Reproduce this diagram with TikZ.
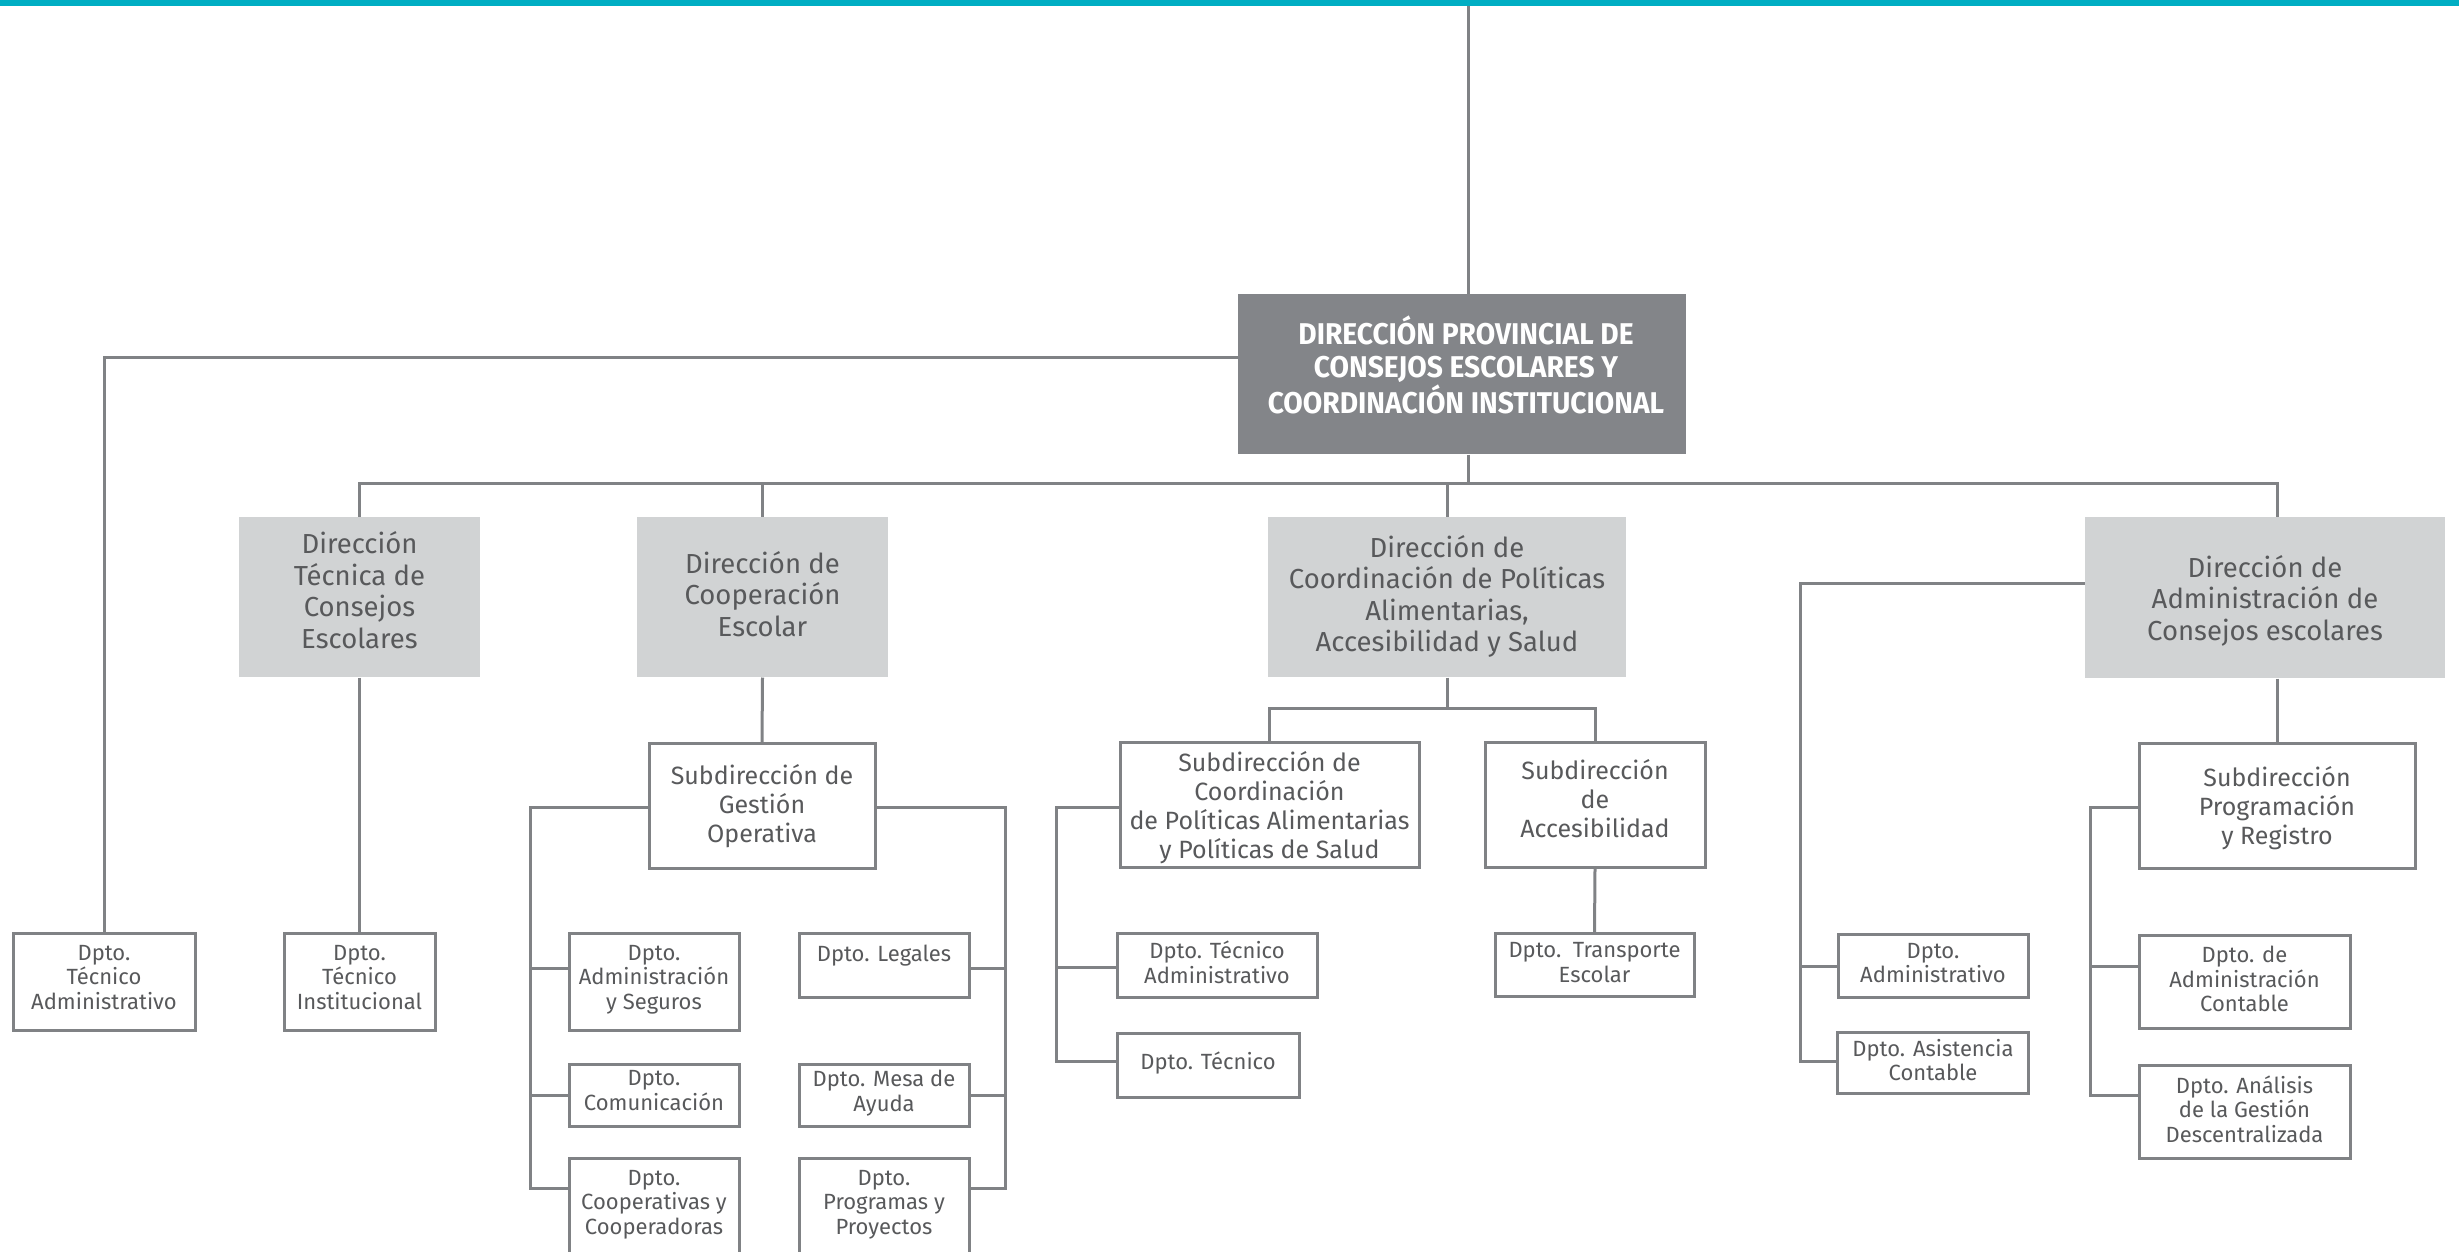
\documentclass[tikz,border=0pt]{standalone}
\usepackage{fontspec}
\setmainfont{Fira Sans}
\newfontfamily\titlefont[FakeStretch=0.94]{Fira Sans}
\definecolor{tealbar}{HTML}{00AEC3}
\definecolor{mainfill}{HTML}{838589}
\definecolor{dirfill}{HTML}{D1D3D4}
\definecolor{linec}{HTML}{808285}
\definecolor{txt}{HTML}{58595B}
\begin{document}
\begin{tikzpicture}[x=0.4pt,y=-0.4pt,
  conn/.style={draw=linec, line width=1.2pt},
  dimbox/.style 2 args={minimum width=#1*0.4pt, minimum height=#2*0.4pt, inner sep=0pt, align=center, text=txt},
  mainbox/.style 2 args={dimbox={#1}{#2}, fill=mainfill},
  titletxt/.style={text=white, align=center, inner sep=0pt, font=\titlefont\bfseries\fontsize{12pt}{13.2pt}\selectfont},
  dirbox/.style 2 args={dimbox={#1}{#2}, fill=dirfill, text depth=2.8pt, font=\fontsize{11pt}{12.6pt}\selectfont},
  subbox/.style 2 args={dimbox={#1}{#2}, draw=linec, line width=1.2pt, fill=white, font=\fontsize{10pt}{11.6pt}\selectfont},
  dptobox/.style 2 args={dimbox={#1}{#2}, draw=linec, line width=1.2pt, fill=white, text depth=2.2pt, font=\fontsize{8.8pt}{9.8pt}\selectfont},
  dptoL/.style 2 args={dptobox={#1}{#2}, text depth=3.6pt}
]
\useasboundingbox (0,0) rectangle (2459,1252);
\clip (0,0) rectangle (2459,1252);
\fill[tealbar] (0,0) rectangle (2459,6);

% top level
\node[mainbox={448}{160}] (main) at (1462,374) {};
\node[titletxt] (maintxt) at (1466,365) {DIRECCIÓN PROVINCIAL DE\\CONSEJOS ESCOLARES Y\\COORDINACIÓN INSTITUCIONAL};

% direcciones
\node[dirbox={241}{160}, text depth=5.6pt] (tecnica) at (359.5,597) {Dirección\\Técnica de\\Consejos\\Escolares};
\node[dirbox={251}{160}] (coop) at (762.5,597) {Dirección de\\Cooperación\\Escolar};
\node[dirbox={358}{160}] (coord) at (1447,597) {Dirección de\\Coordinación de Políticas\\Alimentarias,\\Accesibilidad y Salud};
\node[dirbox={360}{161}, text depth=0pt] (admin) at (2265,597.5) {Dirección de\\Administración de\\Consejos escolares};

% left departments
\node[dptoL={182}{97}] (dta) at (104,981.5) {Dpto.\\Técnico\\Administrativo};
\node[dptoL={151}{97}] (dti) at (359.5,981.5) {Dpto.\\Técnico\\Institucional};

% cooperacion
\node[subbox={226}{125}] (sgo) at (762,806) {Subdirección de\\Gestión\\Operativa};
\node[dptoL={170}{97}] (das) at (654,981.5) {Dpto.\\Administración\\y Seguros};
\node[dptoL={170}{62}] (dcom) at (654,1095) {Dpto.\\Comunicación};
\node[dptoL={170}{97}] (dcoop) at (654,1206.5) {Dpto.\\Cooperativas y\\Cooperadoras};
\node[dptobox={170}{64}, text depth=0pt] (dleg) at (884,965) {Dpto. Legales\\\mbox{}};
\node[dptoL={170}{62}] (dmesa) at (884,1095) {Dpto. Mesa de\\Ayuda};
\node[dptoL={170}{97}] (dprog) at (884,1206.5) {Dpto.\\Programas y\\Proyectos};

% coordinacion
\node[subbox={299}{125}, text depth=0pt] (sca) at (1269.5,805) {Subdirección de\\Coordinación\\de Políticas Alimentarias\\y Políticas de Salud};
\node[subbox={220}{125}, text depth=5pt] (sac) at (1595,805) {Subdirección\\de\\Accesibilidad};
\node[dptobox={200}{64}] (dtadm) at (1217,965) {Dpto. Técnico\\Administrativo};
\node[dptoL={182}{64}] (dtec) at (1208,1065) {Dpto. Técnico};
\node[dptobox={199}{63}] (dtrans) at (1594.5,965) {Dpto.\ \ Transporte\\Escolar};

% administracion
\node[subbox={276}{125}, text depth=0pt] (spr) at (2277,805.5) {Subdirección\\Programación\\y Registro};
\node[dptobox={190}{63}] (dadm) at (1933,965.5) {Dpto.\\Administrativo};
\node[dptobox={191}{61}] (dasis) at (1933,1062.5) {Dpto. Asistencia\\Contable};
\node[dptobox={211}{93}] (dadc) at (2244.5,981.5) {Dpto. de\\Administración\\Contable};
\node[dptobox={211}{93}] (dana) at (2244.5,1111.5) {Dpto. Análisis\\de la Gestión\\Descentralizada};

% connectors: top level
\coordinate (topend) at (1468,6);
\draw[conn] (topend) -- (topend |- main.north);
\draw[conn] (main.west |- 0,357) -| (dta.north);
\coordinate (mb) at (1468,483);
\draw[conn] (main.south -| mb) -- (mb);
\coordinate (adx) at (2277,483);
\draw[conn] (tecnica.north) |- (adx) -- (adx |- admin.north);
\draw[conn] (coop.north) -- (coop.north |- mb);
\draw[conn] (coord.north) -- (coord.north |- mb);
\draw[conn] (tecnica.south) -- (dti.north);

% cooperacion
\draw[conn] (coop.south) -- (sgo.north);
\coordinate (lbx) at (530,1188);
\draw[conn] (sgo.west |- 0,807) -| (lbx) -- (dcoop.west |- lbx);
\draw[conn] (das.west |- 0,968) -- (lbx |- 0,968);
\draw[conn] (dcom.west) -- (lbx |- dcom.west);
\coordinate (rbx) at (1005,1188);
\draw[conn] (sgo.east |- 0,807) -| (rbx) -- (dprog.east |- rbx);
\draw[conn] (dleg.east |- 0,968) -- (rbx |- 0,968);
\draw[conn] (dmesa.east) -- (rbx |- dmesa.east);

% coordinacion
\coordinate (cb) at (1448,708);
\draw[conn] (coord.south) -- (coord.south |- cb);
\draw[conn] (sca.north) |- (sac.north |- cb) -- (sac.north);
\coordinate (sbx) at (1056,1061);
\draw[conn] (sca.west |- 0,807) -| (sbx) -- (dtec.west |- sbx);
\draw[conn] (dtadm.west |- 0,967) -- (sbx |- 0,967);
\draw[conn] (sac.south) -- (dtrans.north);

% administracion
\coordinate (abx) at (1800,1061);
\draw[conn] (admin.west |- 0,583) -| (abx) -- (dasis.west |- abx);
\draw[conn] (dadm.west |- 0,966) -- (abx |- 0,966);
\draw[conn] (admin.south -| adx) -- (spr.north);
\coordinate (pbx) at (2090,1095);
\draw[conn] (spr.west |- 0,807) -| (pbx) -- (dana.west |- pbx);
\draw[conn] (dadc.west |- 0,966) -- (pbx |- 0,966);
\end{tikzpicture}
\end{document}
